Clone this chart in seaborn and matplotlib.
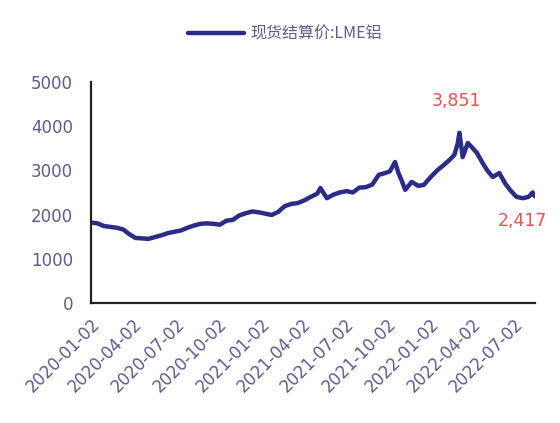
import matplotlib
matplotlib.use("Agg")
import matplotlib.pyplot as plt
import pandas as pd
import seaborn as sns

# LME aluminium price series (USD/t)
dates = [
    "2020-01-02", "2020-01-16", "2020-01-30", "2020-02-13", "2020-02-27",
    "2020-03-12", "2020-03-24", "2020-04-07", "2020-04-21", "2020-05-05",
    "2020-05-19", "2020-06-02", "2020-06-16", "2020-06-30", "2020-07-14",
    "2020-07-28", "2020-08-11", "2020-08-25", "2020-09-08", "2020-09-22",
    "2020-10-06", "2020-10-20", "2020-11-03", "2020-11-17", "2020-12-01",
    "2020-12-15", "2020-12-29", "2021-01-12", "2021-01-26", "2021-02-09",
    "2021-02-23", "2021-03-09", "2021-03-23", "2021-04-06", "2021-04-20",
    "2021-05-04", "2021-05-11", "2021-05-25", "2021-06-08", "2021-06-22",
    "2021-07-06", "2021-07-20", "2021-08-03", "2021-08-17", "2021-08-31",
    "2021-09-14", "2021-09-28", "2021-10-08", "2021-10-19", "2021-10-26",
    "2021-11-02", "2021-11-10", "2021-11-24", "2021-12-08", "2021-12-20",
    "2022-01-04", "2022-01-18", "2022-02-01", "2022-02-15", "2022-02-24",
    "2022-03-03", "2022-03-07", "2022-03-14", "2022-03-25", "2022-04-05",
    "2022-04-14", "2022-04-27", "2022-05-06", "2022-05-18", "2022-06-01",
    "2022-06-14", "2022-06-24", "2022-07-08", "2022-07-22", "2022-08-03",
    "2022-08-12", "2022-08-16",
]
prices = [
    1820, 1800, 1740, 1720, 1700,
    1660, 1560, 1470, 1460, 1450,
    1490, 1530, 1580, 1610, 1640,
    1700, 1750, 1790, 1800, 1790,
    1770, 1860, 1880, 1980, 2030,
    2070, 2050, 2020, 1990, 2060,
    2190, 2240, 2260, 2320, 2400,
    2470, 2600, 2370, 2450, 2500,
    2530, 2500, 2610, 2620, 2680,
    2900, 2940, 2980, 3190, 2950,
    2780, 2560, 2740, 2650, 2670,
    2850, 3000, 3120, 3250, 3350,
    3600, 3851, 3300, 3620, 3500,
    3390, 3150, 3000, 2850, 2940,
    2700, 2560, 2400, 2370, 2400,
    2500, 2417,
]
x_tick_labels = [
    "2020-01-02", "2020-04-02", "2020-07-02", "2020-10-02",
    "2021-01-02", "2021-04-02", "2021-07-02", "2021-10-02",
    "2022-01-02", "2022-04-02", "2022-07-02",
]
y_ticks = [0, 1000, 2000, 3000, 4000, 5000]
series_name = "现货结算价:LME铝"

df = pd.DataFrame({"date": pd.to_datetime(dates), "price": prices})

sns.set_style("white")
plt.rcParams["font.family"] = ["DejaVu Sans", "Noto Sans CJK SC"]

line_color = "#2b2b8a"
tick_color = "#5b5b90"
note_color = "#f05050"

fig = plt.figure(figsize=(5.6, 4.23), dpi=100)
ax = fig.add_axes([0.1625, 0.284, 0.792, 0.522])

sns.lineplot(data=df, x="date", y="price", ax=ax, color=line_color,
             linewidth=3.2, label=series_name, legend=False)

ax.set_xlim(df["date"].iloc[0], df["date"].iloc[-1])
ax.set_ylim(0, 5000)
ax.set_yticks(y_ticks)
ax.set_yticklabels([str(v) for v in y_ticks])
ax.set_xticks(pd.to_datetime(x_tick_labels))
ax.set_xticklabels(x_tick_labels, rotation=45, ha="right", rotation_mode="anchor")
ax.set_xlabel("")
ax.set_ylabel("")

for side in ("top", "right"):
    ax.spines[side].set_visible(False)
for side in ("left", "bottom"):
    ax.spines[side].set_color("#222222")
    ax.spines[side].set_linewidth(1.6)

ax.tick_params(axis="both", direction="in", length=4, width=1.2,
               colors="#222222", labelsize=12, labelcolor=tick_color)
ax.tick_params(axis="y", pad=13)
ax.tick_params(axis="x", pad=9)

# annotate peak and latest values
peak_idx = df["price"].idxmax()
peak = df.loc[peak_idx]
last = df.iloc[-1]
ax.annotate(f"{peak['price']:,.0f}", xy=(peak["date"], peak["price"]),
            xytext=(-2, 23), textcoords="offset points", ha="center", va="center",
            color=note_color, fontsize=12.5)
ax.annotate(f"{last['price']:,.0f}", xy=(last["date"], last["price"]),
            xytext=(-9, -18), textcoords="offset points", ha="center", va="center",
            color=note_color, fontsize=12.5, annotation_clip=False)

handles, labels = ax.get_legend_handles_labels()
leg = fig.legend(handles, labels, loc="center", bbox_to_anchor=(285 / 560, 0.92),
                 frameon=False, handlelength=3.5, handletextpad=0.45,
                 fontsize=11.5, labelcolor=tick_color)
for t in leg.get_texts():
    t.set_fontfamily(["Noto Sans CJK SC", "DejaVu Sans"])

fig.savefig("out.png", dpi=100)
